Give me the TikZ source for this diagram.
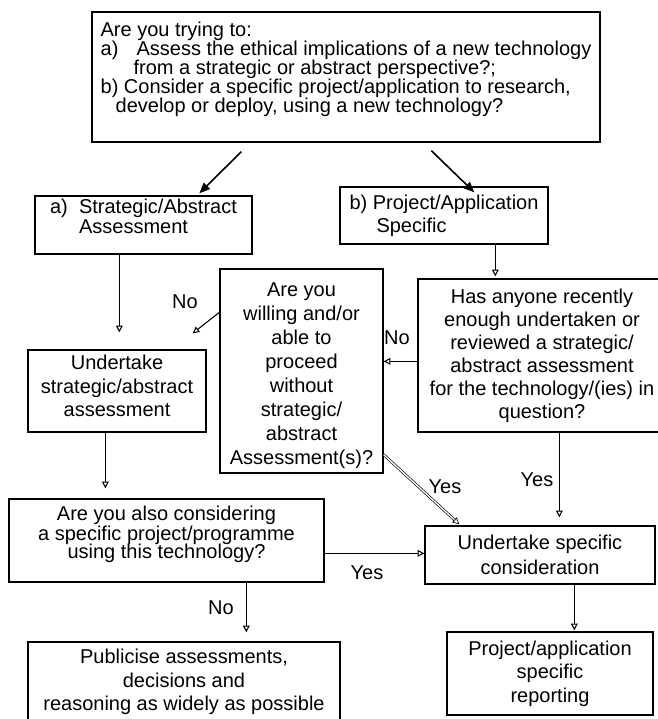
\documentclass[tikz,border=0pt]{standalone}
\usepackage{fontspec}
\setmainfont{Liberation Sans}
\usetikzlibrary{arrows.meta,calc}
\begin{document}
\begin{tikzpicture}[x=0.75pt,y=-0.75pt,
  box/.style={draw, line width=1pt, inner sep=0pt, align=center, anchor=center, font=\fontsize{15pt}{17.5pt}\selectfont},
  conn/.style={line width=0.8pt, -{Triangle[open,length=5pt,width=5pt]}},
  boldarr/.style={line width=1.2pt, -{Triangle[length=8pt,width=6.5pt]}},
  dbl/.style={double, line width=0.5pt, double distance=1pt, -{Triangle[open,length=5pt,width=5pt]}},
  lab/.style={font=\fontsize{15pt}{17.5pt}\selectfont, inner sep=0pt}]
\useasboundingbox (0,0) rectangle (658,719);
\clip (0,0) rectangle (658,719);

\node[box, minimum width=381pt, minimum height=97.5pt, align=left, font=\fontsize{15pt}{14.25pt}\selectfont] (top) at (346,77)
  {Are you trying to:\\
   \makebox[27pt][l]{a)}Assess the ethical implications of a new technology\\
   \hspace*{24.75pt}from a strategic or abstract perspective?;\\
   b) Consider a specific project/application to research,\\
   \hspace*{11.25pt}develop or deploy, using a new technology?\\
   \mbox{}};
\node[box, minimum width=162.75pt, minimum height=43.5pt, align=left, font=\fontsize{15pt}{15pt}\selectfont] (strat) at (143.5,225)
  {\makebox[21.75pt][l]{a)}Strategic/Abstract\\ \hspace*{21.75pt}Assessment\\[-2.5pt]\mbox{}};
\node[box, minimum width=156pt, minimum height=42.75pt, align=left] (proj) at (444,215.5)
  {b) Project/Application\\ \hspace*{20.25pt}Specific};
\node[box, minimum width=122.25pt, minimum height=153pt, font=\fontsize{15pt}{18pt}\selectfont] (will) at (301.5,371)
  {\mbox{}\\[-1.2pt] Are you\\ willing and/or\\ able to\\ proceed\\ without\\ strategic/\\ abstract\\ Assessment(s)?};
\node[box, minimum width=186pt, minimum height=114.75pt, font=\fontsize{15pt}{17.25pt}\selectfont] (has) at (542,355.5)
  {Has anyone recently\\ enough undertaken or\\ reviewed a strategic/\\ abstract assessment\\ for the technology/(ies) in\\ question?};
\node[box, minimum width=133.5pt, minimum height=61.5pt] (ustrat) at (117,391)
  {Undertake\\ strategic/abstract\\ assessment\\[-10pt]\mbox{}};
\node[box, minimum width=236.25pt, minimum height=62.25pt, font=\fontsize{15pt}{15pt}\selectfont] (also) at (166.5,540.5)
  {Are you also considering\\ a specific project/programme\\[-1.5pt] using this technology?\\[-3pt]\mbox{}};
\node[box, minimum width=172.5pt, minimum height=43.5pt, font=\fontsize{15pt}{18.5pt}\selectfont] (uspec) at (540,555)
  {Undertake specific\\ consideration};
\node[box, minimum width=234pt, minimum height=60pt] (pub) at (184,682)
  {Publicise assessments,\\ decisions and\\ reasoning as widely as possible};
\node[box, minimum width=154.5pt, minimum height=62.25pt] (rep) at (550,673.5)
  {Project/application\\ specific\\ reporting};

\draw[boldarr] ($(top.south west)+(150,9)$) -- ($(strat.north west)+(165,-2)$);
\draw[boldarr] ($(top.south west)+(340,8)$) -- ($(proj.north west)+(135,6)$);
\draw[conn] ($(strat.south west)+(85,0)$) -- ($(ustrat.north west)+(92,-17)$);
\draw[conn] ($(proj.south west)+(156,0)$) -- ($(has.north west)+(78,-2)$);
\draw[conn] ($(has.north west)+(0,83)$) -- ($(will.north east)+(0,93)$);
\draw[conn] ($(will.north west)+(0,44)$) -- ($(ustrat.north east)+(-14,-16)$);
\draw[conn] ($(has.south west)+(142,0)$) -- ($(uspec.north west)+(135,-8)$);
\draw[dbl] ($(will.south east)+(0,-19)$) -- ($(uspec.north west)+(35,-1)$);
\draw[conn] ($(ustrat.south west)+(78,0)$) -- ($(also.north west)+(97,-10)$);
\draw[conn] ($(also.north east)+(0,55)$) -- ($(uspec.north west)+(0,28)$);
\draw[conn] ($(also.south west)+(238,0)$) -- ($(pub.north west)+(219,-9)$);
\draw[conn] ($(uspec.south west)+(150,0)$) -- ($(rep.north west)+(128,-1)$);

\node[lab] (no1) at (185,302) {No};
\node[lab] (no2) at (397,338) {No};
\node[lab] (yes1) at (445,487) {Yes};
\node[lab] (yes2) at (537,480) {Yes};
\node[lab] (yes3) at (367,573) {Yes};
\node[lab] (no3) at (221,608) {No};
\end{tikzpicture}
\end{document}
